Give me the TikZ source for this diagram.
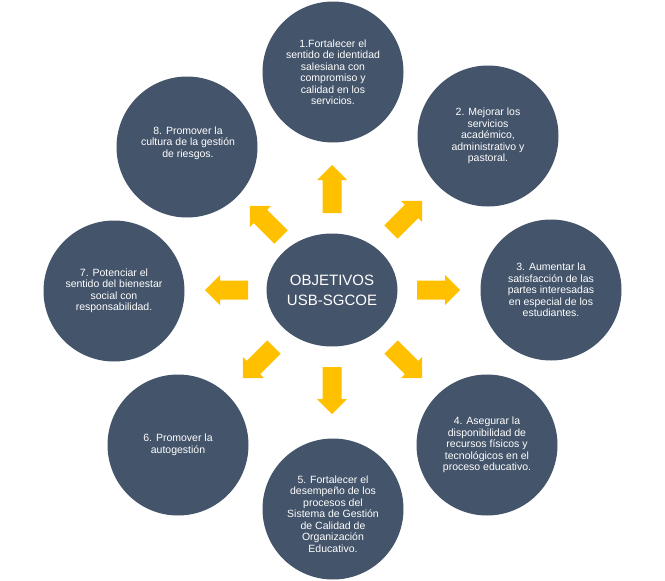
\documentclass[tikz,border=0pt]{standalone}
\usepackage{fontspec}
\setmainfont{Liberation Sans}
\usetikzlibrary{shapes.geometric}
\definecolor{circc}{HTML}{44546A}
\definecolor{arrowc}{HTML}{FFC000}
\newcommand{\blockarr}[3]{%
  \fill[arrowc, shift={#1}, rotate=#2] (0,-9.5) -- ({#3-15},-9.5) -- ({#3-15},-15) -- (#3,0) -- ({#3-15},15) -- ({#3-15},9.5) -- (0,9.5) -- cycle;}
\tikzset{
  goal/.style={circle, fill=circc, minimum size=141pt, inner sep=0pt, text=white, align=center,
    font=\fontsize{10.5}{11.5}\selectfont},
  hub/.style={ellipse, fill=circc, minimum width=131pt, minimum height=113pt, inner sep=0pt, text=white, align=center,
    font=\fontsize{15}{20}\selectfont}
}
\begin{document}
\begin{tikzpicture}[x=1pt, y=-1pt]
\useasboundingbox (0,0) rectangle (665,581);
\node[hub] (hub) at (332,290) {OBJETIVOS\\USB-SGCOE};
\node[goal] (g1) at (333,72) {1.Fortalecer el\\sentido de identidad\\salesiana con\\compromiso y\\calidad en los\\servicios.};
\node[goal] (g2) at (488,136) {2. Mejorar los\\servicios\\académico,\\administrativo y\\pastoral.};
\node[goal] (g3) at (551,290) {3. Aumentar la\\satisfacción de las\\partes interesadas\\en especial de los\\estudiantes.};
\node[goal] (g4) at (487,445) {4. Asegurar la\\disponibilidad de\\recursos físicos y\\tecnológicos en el\\proceso educativo.};
\node[goal] (g5) at (333,509) {};
\node[text=white, align=center, font=\fontsize{10.5}{11.5}\selectfont] (g5t) at (333,514) {5. Fortalecer el\\desempeño de los\\procesos del\\Sistema de Gestión\\de Calidad de\\Organización\\Educativo.};
\node[goal] (g6) at (178,445) {6. Promover la\\autogestión};
\node[goal] (g7) at (114,291) {7. Potenciar el\\sentido del bienestar\\social con\\responsabilidad.};
\node[goal] (g8) at (187,147) {};
\node[text=white, align=center, font=\fontsize{10.5}{11.5}\selectfont] (g8t) at (188,143) {8. Promover la\\cultura de la gestión\\de riesgos.};
% block arrows (tail, angle, length)
\blockarr{(332,213)}{90}{48}
\blockarr{(332,367)}{-90}{47}
\blockarr{(417,290)}{0}{43}
\blockarr{(248,290)}{180}{43}
\blockarr{(391,232)}{45}{44}
\blockarr{(281,237)}{135}{44}
\blockarr{(391,347)}{-45}{44}
\blockarr{(274,347)}{-135}{44}
\end{tikzpicture}
\end{document}
